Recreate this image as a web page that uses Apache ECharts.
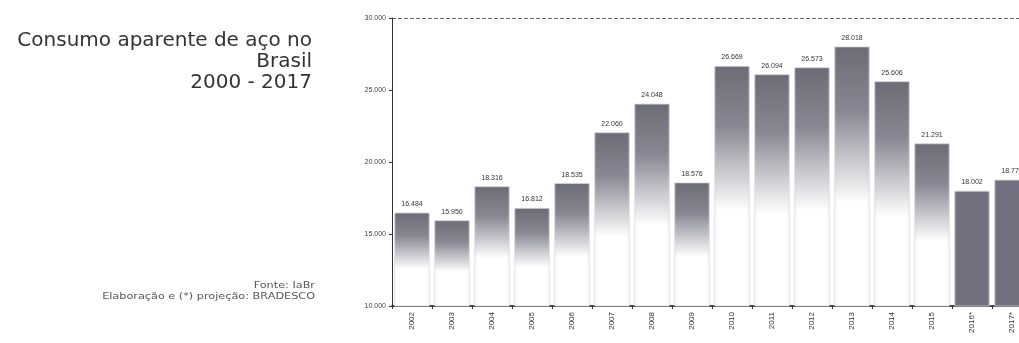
<!DOCTYPE html>
<html>
<head>
<meta charset="utf-8">
<script src="https://cdn.jsdelivr.net/npm/echarts@6/dist/echarts.min.js"></script>
<style>
	html, body { margin: 0; padding: 0; background: #fff; overflow: hidden; }
	#chart { width: 1032px; height: 343px; }
</style>
</head>
<body>
<div id="chart"></div>
<script>
// dados: consumo aparente de aço (mil t)
var anos = ['2002', '2003', '2004', '2005', '2006', '2007', '2008', '2009', '2010', '2011', '2012', '2013', '2014', '2015', '2016*', '2017*'];
var consumo = [16484, 15950, 18316, 16812, 18535, 22060, 24048, 18576, 26669, 26094, 26573, 28018, 25606, 21291, 18002, 18770];
var projecao = [false, false, false, false, false, false, false, false, false, false, false, false, false, false, true, true];
var tituloLinhas = ['Consumo aparente de aço no', 'Brasil', '2000 - 2017'];
var fonteLinhas = ['Fonte: IaBr', 'Elaboração e (*) projeção: BRADESCO'];

function fmt(v) {
	return String(v).replace(/\B(?=(\d{3})+(?!\d))/g, '.');
}

var fade = {
	type: 'linear', x: 0, y: 0, x2: 0, y2: 1,
	colorStops: [
		{ offset: 0, color: '#6c6c76' },
		{ offset: 0.25, color: '#888894' },
		{ offset: 0.6, color: '#ffffff' },
		{ offset: 1, color: '#ffffff' }
	]
};

var dados = consumo.map(function (v, i) {
	return {
		value: v,
		itemStyle: { color: projecao[i] ? '#70707e' : fade }
	};
});

var chart = echarts.init(document.getElementById('chart'));
chart.setOption({
	animation: false,
	backgroundColor: '#fff',
	textStyle: { fontFamily: 'Liberation Sans, Arial, sans-serif' },
	grid: { left: 392, right: 0, top: 18, bottom: 37 },
	xAxis: {
		type: 'category',
		data: anos,
		axisLine: { lineStyle: { color: '#111', width: 1.5 } },
		axisTick: { show: true, length: 3, lineStyle: { color: '#333' } },
		axisLabel: { rotate: 90, fontSize: 8, color: '#333', margin: 6 }
	},
	yAxis: {
		type: 'value',
		min: 10000,
		max: 30000,
		interval: 5000,
		axisLine: { show: true, lineStyle: { color: '#333' } },
		axisTick: { show: true, length: 3, lineStyle: { color: '#333' } },
		axisLabel: { fontSize: 7, color: '#444', margin: 6, formatter: fmt },
		splitLine: {
			show: true,
			lineStyle: { color: ['transparent', 'transparent', 'transparent', 'transparent', '#666'], type: 'dashed', width: 1 }
		}
	},
	series: [{
		type: 'bar',
		data: dados,
		barCategoryGap: '12%',
		itemStyle: { borderColor: '#d4d4dc', borderWidth: 0.8 },
		label: {
			show: true,
			position: 'top',
			distance: 5,
			fontSize: 7,
			color: '#333',
			formatter: function (p) { return fmt(p.value); }
		}
	}],
	graphic: [
		{
			type: 'text', x: 312, y: 30,
			style: { text: tituloLinhas.join('\n'), align: 'right', verticalAlign: 'top', fontSize: 20, lineHeight: 21, fill: '#333', fontFamily: 'DejaVu Sans, sans-serif' }
		},
		{
			type: 'text', x: 315, y: 280, scaleX: 1.25,
			style: { text: fonteLinhas.join('\n'), align: 'right', verticalAlign: 'top', fontSize: 9, lineHeight: 11, fill: '#555', fontFamily: 'DejaVu Sans, sans-serif' }
		}
	]
});
</script>
</body>
</html>
